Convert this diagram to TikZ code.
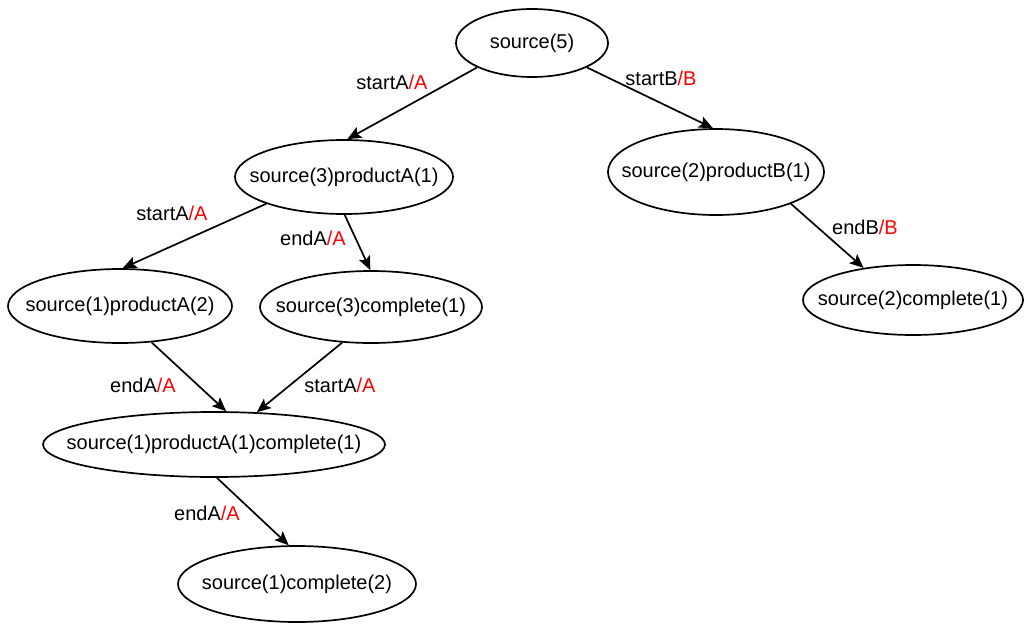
\documentclass[tikz,border=0pt]{standalone}
\usepackage{fontspec}
\setmainfont{Liberation Sans}
\usetikzlibrary{shapes.geometric,arrows.meta}
\definecolor{lblred}{RGB}{255,0,0}
\tikzset{
  state/.style={ellipse, draw=black, line width=1.7pt, inner sep=-150pt,
    font=\fontsize{20}{24}\selectfont, fill=white},
  trans/.style={line width=1.7pt, -{Stealth[length=14pt,width=12pt,inset=3pt]}},
  lbl/.style={font=\fontsize{20}{24}\selectfont, inner sep=0pt}
}
\newcommand{\tlab}[2]{#1\textcolor{lblred}{/#2}}
\begin{document}
\begin{tikzpicture}[x=1pt,y=-1pt]
  \useasboundingbox (0,0) rectangle (1025,624);

  % states
  \node[state, minimum width=152pt, minimum height=68pt] (s5)  at (532,43)   {source(5)};
  \node[state, minimum width=218pt, minimum height=74pt] (a31) at (344,177)  {source(3)productA(1)};
  \node[state, minimum width=216pt, minimum height=86pt] (b21) at (716,172)  {source(2)productB(1)};
  \node[state, minimum width=224pt, minimum height=74pt] (a12) at (120,306)  {source(1)productA(2)};
  \node[state, minimum width=222pt, minimum height=72pt] (c31) at (371,307)  {source(3)complete(1)};
  \node[state, minimum width=220pt, minimum height=70pt] (c21) at (913,300)  {source(2)complete(1)};
  \node[state, minimum width=342pt, minimum height=65pt] (pac) at (214,444.5){source(1)productA(1)complete(1)};
  \node[state, minimum width=238pt, minimum height=76pt] (c12) at (297,584)  {source(1)complete(2)};

  % transitions
  \draw[trans] (s5.204.4)  -- (a31.85.6);
  \draw[trans] (s5.336.4)  -- (b21.94.1);
  \draw[trans] (a31.199.1) -- (a12.86.9);
  \draw[trans] (a31.271.4) -- (c31.91.6);
  \draw[trans] (a12.311.7) -- (pac.70);
  \draw[trans] (c31.231.1) -- (pac.37.1);
  \draw[trans] (pac.275.1) -- (c12.102.1);
  \draw[trans] (b21.337.3) -- (c21.147.9);

  % transition labels
  \node[lbl] (l1) at (392,82)  {\tlab{startA}{A}};
  \node[lbl] (l2) at (661,78)  {\tlab{startB}{B}};
  \node[lbl] (l3) at (172,213) {\tlab{startA}{A}};
  \node[lbl] (l4) at (313,238) {\tlab{endA}{A}};
  \node[lbl] (l5) at (865,227) {\tlab{endB}{B}};
  \node[lbl] (l6) at (143,385) {\tlab{endA}{A}};
  \node[lbl] (l7) at (340,385) {\tlab{startA}{A}};
  \node[lbl] (l8) at (207,513) {\tlab{endA}{A}};
\end{tikzpicture}
\end{document}
